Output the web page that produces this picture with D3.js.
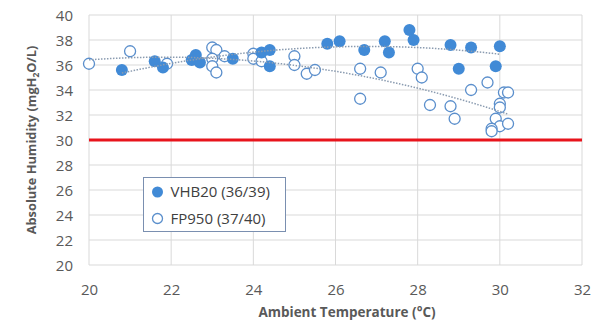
<!DOCTYPE html>
<html><head><meta charset="utf-8">
<script src="https://cdn.jsdelivr.net/npm/d3@7"></script>
<style>
html,body{margin:0;padding:0;background:#fff;}
svg{display:block;font-family:"Open Sans",sans-serif;}
</style></head><body>
<svg id="chart" width="592" height="322"></svg>
<script>
// VHB20 (filled)
const vhbTemp = [20.8,21.6,21.8,22.5,22.6,22.7,23.5,24.2,24.4,24.4,25.8,26.1,26.7,27.2,27.3,27.8,27.9,28.8,29.0,29.3,29.9,30.0];
const vhbHum  = [35.6,36.3,35.8,36.4,36.8,36.2,36.5,37.0,37.2,35.9,37.7,37.9,37.2,37.9,37.0,38.8,38.0,37.6,35.7,37.4,35.9,37.5];
// FP950 (open)
const fpTemp = [20.0,21.0,21.9,23.0,23.1,23.0,23.0,23.1,23.3,24.0,24.0,24.2,25.0,25.0,25.3,25.5,26.6,26.6,27.1,28.0,28.1,28.3,28.8,28.9,29.3,29.7,30.1,30.2,30.0,30.0,29.9,30.0,30.2,29.8,29.8];
const fpHum  = [36.1,37.1,36.1,37.4,37.2,36.5,35.9,35.4,36.7,36.9,36.5,36.3,36.7,36.0,35.3,35.6,35.7,33.3,35.4,35.7,35.0,32.8,32.7,31.7,34.0,34.6,33.8,33.8,32.9,32.6,31.7,31.1,31.3,30.9,30.7];
const xTicks = [20,22,24,26,28,30,32];
const yTicks = [20,22,24,26,28,30,32,34,36,38,40];
const threshold = 30;
const legendLabels = ["VHB20 (36/39)","FP950 (37/40)"];
const xTitle = "Ambient Temperature (°C)";

const svg = d3.select("#chart");
const x = d3.scaleLinear().domain([20,32]).range([89,582]);
const y = d3.scaleLinear().domain([20,40]).range([265,15]);

const grid = "#d9d9d9";
svg.append("g").selectAll("line").data(yTicks).join("line")
  .attr("x1",x(20)).attr("x2",x(32)).attr("y1",d=>y(d)).attr("y2",d=>y(d))
  .attr("stroke",grid).attr("stroke-width",1);
svg.append("g").selectAll("line").data(xTicks).join("line")
  .attr("y1",y(20)).attr("y2",y(40)).attr("x1",d=>x(d)).attr("x2",d=>x(d))
  .attr("stroke",grid).attr("stroke-width",1);

// axes labels
const xAxis = d3.axisBottom(x).tickValues(xTicks).tickSize(0).tickPadding(0);
const gx = svg.append("g").attr("transform",`translate(0,${y(20)})`).call(xAxis);
gx.select(".domain").remove();
gx.selectAll("text").attr("dy",null).attr("y",30).attr("fill","#595959").attr("font-size","15px").attr("font-family","Open Sans");
const yAxis = d3.axisLeft(y).tickValues(yTicks).tickSize(0).tickPadding(0);
const gy = svg.append("g").attr("transform",`translate(${x(20)},0)`).call(yAxis);
gy.select(".domain").remove();
gy.selectAll("text").attr("x",-16).attr("dy","0.36em").attr("fill","#595959").attr("font-size","15px").attr("font-family","Open Sans");

// titles
svg.append("text").attr("x",347).attr("y",317).attr("text-anchor","middle")
  .attr("font-size","13.5px").attr("font-weight","bold").attr("fill","#595959").text(xTitle);
const yt = svg.append("text").attr("transform","translate(36,140) rotate(-90)").attr("text-anchor","middle")
  .attr("font-size","12.8px").attr("font-weight","bold").attr("fill","#595959");
yt.append("tspan").text("Absolute Humidity (mgH");
yt.append("tspan").attr("font-size","8.5px").attr("dy","3").text("2");
yt.append("tspan").attr("dy","-3").text("O/L)");

// threshold line
svg.append("line").attr("x1",x(20)).attr("x2",x(32)).attr("y1",y(threshold)).attr("y2",y(threshold))
  .attr("stroke","#e8141c").attr("stroke-width",3);

// quadratic least squares fit
function polyfit2(xs, ys){
  let n=xs.length,s=[0,0,0,0,0],t=[0,0,0];
  for(let i=0;i<n;i++){const a=xs[i]-25;let p=1;for(let k=0;k<5;k++){s[k]+=p;if(k<3)t[k]+=p*ys[i];p*=a;}}
  const M=[[s[0],s[1],s[2],t[0]],[s[1],s[2],s[3],t[1]],[s[2],s[3],s[4],t[2]]];
  for(let i=0;i<3;i++){for(let j=i+1;j<3;j++){const f=M[j][i]/M[i][i];for(let k=i;k<4;k++)M[j][k]-=f*M[i][k];}}
  const c=[0,0,0];for(let i=2;i>=0;i--){let v=M[i][3];for(let k=i+1;k<3;k++)v-=M[i][k]*c[k];c[i]=v/M[i][i];}
  return v=>{const a=v-25;return c[0]+c[1]*a+c[2]*a*a;};
}
function trend(xs, ys){
  const f=polyfit2(xs,ys), lo=d3.min(xs), hi=d3.max(xs);
  const pts=d3.range(0,51).map(i=>lo+(hi-lo)*i/50);
  svg.append("path").attr("d",d3.line().x(d=>x(d)).y(d=>y(f(d)))(pts))
    .attr("fill","none").attr("stroke","#8a9bb0").attr("stroke-width",1.5).attr("stroke-dasharray","1.5,1.5");
}

const fp = fpTemp.map((t,i)=>[t,fpHum[i]]);
const vhb = vhbTemp.map((t,i)=>[t,vhbHum[i]]);

svg.append("g").selectAll("circle").data(fp).join("circle")
  .attr("cx",d=>x(d[0])).attr("cy",d=>y(d[1])).attr("r",5.5)
  .attr("fill","#fff").attr("stroke","#5b8fcc").attr("stroke-width",1.3);
svg.append("g").selectAll("circle").data(vhb).join("circle")
  .attr("cx",d=>x(d[0])).attr("cy",d=>y(d[1])).attr("r",6)
  .attr("fill","#418ad6");
trend(vhbTemp, vhbHum);
trend(fpTemp, fpHum);

// legend
const lg = svg.append("g");
lg.append("rect").attr("x",143.5).attr("y",177.5).attr("width",142).attr("height",54)
  .attr("fill","#fff").attr("stroke","#7a8fb0").attr("stroke-width",1);
lg.append("circle").attr("cx",157.5).attr("cy",192).attr("r",5.5).attr("fill","#418ad6");
lg.append("circle").attr("cx",157.5).attr("cy",218.5).attr("r",5).attr("fill","#fff").attr("stroke","#5b8fcc").attr("stroke-width",1.3);
lg.selectAll("text.l").data(legendLabels).join("text").attr("class","l")
  .attr("x",170.5).attr("y",(d,i)=>192+i*26.5).attr("dy","0.36em")
  .attr("font-size","15px").attr("fill","#404040").text(d=>d);
</script>
</body></html>
